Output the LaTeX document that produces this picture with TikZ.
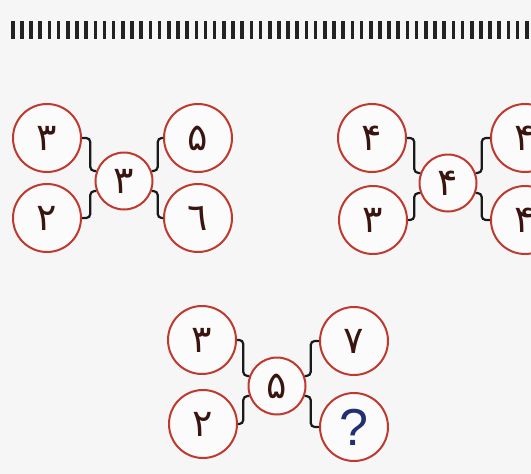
\documentclass[tikz,border=0pt]{standalone}
\usepackage{fontspec}
\newfontfamily\arabicfont[Script=Arabic]{DejaVu Sans}
\newfontfamily\qfont{Liberation Sans}
\TeXXeTstate=1
\definecolor{bgc}{HTML}{F6F6F6}
\definecolor{ringc}{HTML}{C0392F}
\definecolor{digc}{HTML}{3A1510}
\definecolor{qc}{HTML}{22306F}
\definecolor{dashc}{HTML}{222222}
\tikzset{
  outer/.style={circle, draw=ringc, line width=2pt, fill=white!60!bgc, minimum size=68pt, inner sep=0pt,
    font=\arabicfont\fontsize{38}{38}\selectfont, text=digc},
  inner/.style={outer, minimum size=57pt},
  conn/.style={draw=black!90, line width=2.2pt, rounded corners=4pt},
}
\newcommand{\pd}[1]{\beginR #1\endR}
\begin{document}
\begin{tikzpicture}[x=1pt,y=-1pt]
\useasboundingbox (0,0) rectangle (531,474);
\clip (0,0) rectangle (531,474);
\fill[bgc] (0,0) rectangle (531,474);
\foreach \i in {0,...,56} \fill[dashc] ({12.7+\i*9.18-1.8},21) rectangle ++(3.6,18);
% diagram 1
\node[outer] (a1) at (47,138) {\pd{۳}};
\node[outer] (a2) at (47,218) {\pd{۲}};
\node[inner] (ac) at (124,181) {\pd{۳}};
\node[outer] (a3) at (198,138) {\pd{۵}};
\node[outer] (a4) at (198,218) {\pd{٦}};
% diagram 2
\node[outer] (b1) at (372,138) {\pd{۴}};
\node[outer] (b2) at (373,220) {\pd{۳}};
\node[inner] (bc) at (448,183) {\pd{۴}};
\node[outer] (b3) at (525,138) {\pd{۴}};
\node[outer] (b4) at (525,220) {\pd{۴}};
% diagram 3
\node[outer] (c1) at (202,340) {\pd{۳}};
\node[outer] (c2) at (203,424) {\pd{۲}};
\node[inner] (cc) at (277,386) {\pd{۵}};
\node[outer] (c3) at (354,341) {\pd{۷}};
\node[outer] (c4) at (354,427) {\qfont\fontsize{52}{52}\selectfont\textcolor{qc}{?}};
\foreach \l/\c/\r in {a/ac/a, b/bc/b, c/cc/c}{
  \draw[conn] (\l1.east) -| ([xshift=-6pt]\c.160) -- (\c.160);
  \draw[conn] (\l2.east) -| ([xshift=-6pt]\c.200) -- (\c.200);
  \draw[conn] (\c.20) -- ([xshift=6pt]\c.20) |- (\r3.west);
  \draw[conn] (\c.340) -- ([xshift=6pt]\c.340) |- (\r4.west);
}
\end{tikzpicture}
\end{document}
